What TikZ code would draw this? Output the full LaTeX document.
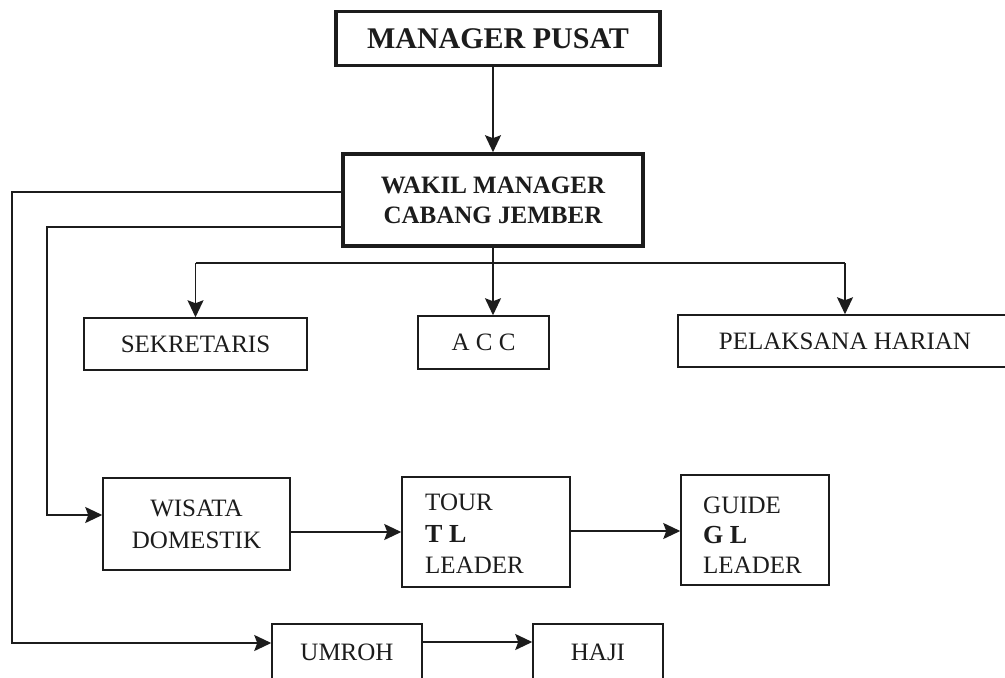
\documentclass[tikz,border=0pt]{standalone}
\usepackage{fontspec}
\setmainfont{Liberation Serif}
\usetikzlibrary{arrows.meta}
\definecolor{ink}{HTML}{1C1C1C}
\begin{document}
\begin{tikzpicture}[x=1pt,y=-1pt,
  bx/.style={draw=ink, line width=1.5pt, inner sep=0pt, text=ink, align=center,
    font=\fontsize{25}{32}\selectfont},
  bigbx/.style={draw=ink, line width=3.6pt, inner sep=0pt, text=ink, align=center,
    font=\bfseries\fontsize{25}{30}\selectfont},
  lbl/.style={text=ink, inner sep=0pt, font=\fontsize{25}{30}\selectfont},
  boldlbl/.style={text=ink, inner sep=0pt, font=\bfseries\fontsize{26}{30}\selectfont},
  ln/.style={draw=ink, line width=1.7pt},
  arr/.style={ln, -{Stealth[length=17pt,width=16pt,inset=3pt]}}]
\useasboundingbox (0,0) rectangle (1005,678);
\clip (0,0) rectangle (1005,678);
\fill[white] (0,0) rectangle (1005,678);

% top boxes
\node[bigbx, minimum width=324pt, minimum height=54pt, font=\bfseries\fontsize{30}{34}\selectfont] (mp) at (498,38.5) {MANAGER PUSAT};
\node[bigbx, minimum width=300pt, minimum height=92pt] (wk) at (493,200) {WAKIL MANAGER\\CABANG JEMBER};

% second row
\node[bx, minimum width=223pt, minimum height=52pt] (sek) at (195.5,344) {SEKRETARIS};
\node[bx, minimum width=131pt, minimum height=53pt] (acc) at (483.5,342.5) {A C C};
\node[bx, minimum width=334pt, minimum height=52pt] (pel) at (845,341) {PELAKSANA HARIAN};

% third row
\node[bx, minimum width=187pt, minimum height=92pt] (wis) at (196.5,524) {WISATA\\DOMESTIK};
\node[bx, minimum width=168pt, minimum height=110pt] (tl) at (486,532) {};
\node[lbl, anchor=base west] (tl1) at (425,510) {TOUR};
\node[boldlbl, anchor=base west] (tl2) at (425,542) {T L};
\node[lbl, anchor=base west] (tl3) at (425,573) {LEADER};
\node[bx, minimum width=148pt, minimum height=110pt] (gl) at (755,530) {};
\node[lbl, anchor=base west] (gl1) at (703,513) {GUIDE};
\node[boldlbl, anchor=base west] (gl2) at (703,543) {G L};
\node[lbl, anchor=base west] (gl3) at (703,573) {LEADER};

% bottom row
\node[bx, minimum width=150pt, minimum height=56pt] (um) at (347,652) {UMROH};
\node[bx, minimum width=130pt, minimum height=56pt] (hj) at (598,652) {HAJI};

% connectors
\draw[arr] (mp.south -| wk.north) -- (wk.north);
\coordinate (bus) at (493,263);
\draw[arr] (wk.south) -- (wk.south |- acc.north);
\draw[ln] (sek.north |- bus) -- (pel.north |- bus);
\draw[arr] (sek.north |- bus) -- (sek.north);
\draw[arr] (pel.north |- bus) -- (pel.north);

\coordinate (c1) at (12,400);
\coordinate (c2) at (47,400);
\draw[arr] ([yshift=8pt]wk.west) -| (c1) |- ([yshift=9pt]um.west);
\draw[arr] ([yshift=-27pt]wk.west) -| (c2) |- ([yshift=9pt]wis.west);

\draw[arr] (wis.east |- tl.west) -- (tl.west);
\draw[arr] ([yshift=1pt]tl.east) -- ([yshift=1pt]tl.east -| gl.west);
\draw[arr] ([yshift=10pt]um.east) -- ([yshift=10pt]um.east -| hj.west);
\end{tikzpicture}
\end{document}
